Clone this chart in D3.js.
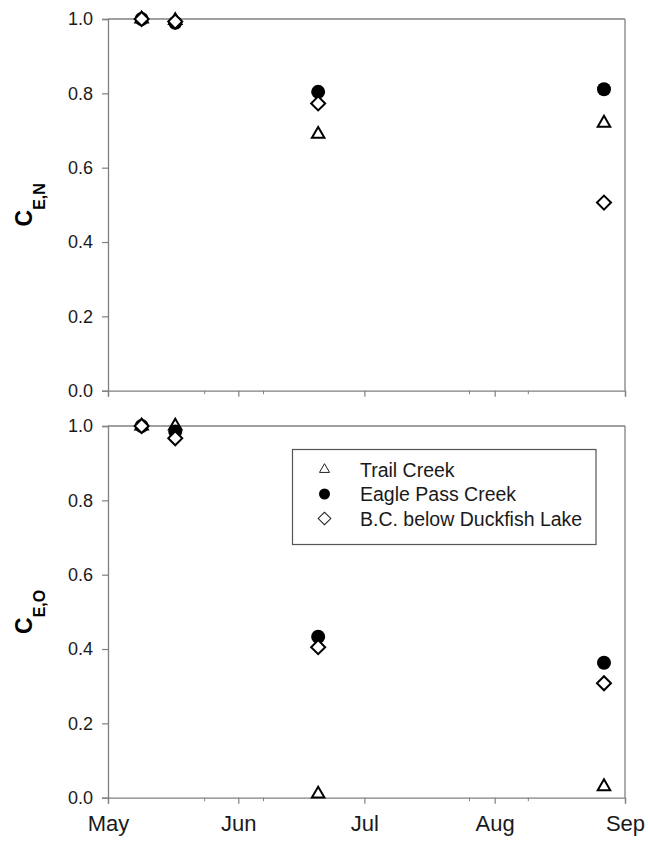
<!DOCTYPE html>
<html>
<head>
<meta charset="utf-8">
<script src="https://cdn.jsdelivr.net/npm/d3@7"></script>
<style>
  html, body { margin: 0; padding: 0; background: #fff; }
  svg { display: block; }
  text { font-family: "Liberation Sans", Arial, sans-serif; }
</style>
</head>
<body>
<svg id="chart" width="648" height="845"></svg>
<script>
// Sampling dates and removal coefficients for three streams
const sampleDates = ["2008-05-09", "2008-05-17", "2008-06-20", "2008-08-27"];
const seriesNames = ["Trail Creek", "Eagle Pass Creek", "B.C. below Duckfish Lake"];

// Nitrogen panel (C E,N)
const trailCreekN = [1.0, 0.996, 0.69, 0.72];
const eaglePassN  = [1.0, 0.99, 0.804, 0.811];
const duckfishN   = [1.0, 0.993, 0.773, 0.506];

// Oxygen panel (C E,O)
const trailCreekO = [1.0, 1.0, 0.01, 0.03];
const eaglePassO  = [1.0, 0.985, 0.433, 0.363];
const duckfishO   = [1.0, 0.967, 0.405, 0.308];

const yTicks = [0, 0.2, 0.4, 0.6, 0.8, 1.0];
const monthTicks = ["2008-05-01", "2008-06-01", "2008-07-01", "2008-08-01", "2008-09-01"];
const minorTickDates = ["2008-05-24", "2008-06-07", "2008-07-26", "2008-08-09"];

const parse = d3.utcParse("%Y-%m-%d");
const svg = d3.select("#chart");
const axisColor = "#808080";
const textColor = "#1a1a1a";

const x = d3.scaleUtc()
  .domain([parse(monthTicks[0]), parse(monthTicks[monthTicks.length - 1])])
  .range([108, 625]);

const panels = [
  { top: 19,  bottom: 390.7, sub: "E,N", data: [trailCreekN, eaglePassN, duckfishN], labels: false, legend: false },
  { top: 426, bottom: 797.7, sub: "E,O", data: [trailCreekO, eaglePassO, duckfishO], labels: true,  legend: true }
];

const triPath = d3.symbol(d3.symbolTriangle, 68)();
const sqPath  = d3.symbol(d3.symbolSquare, 98)();

function drawMarker(g, kind, cx, cy, legend) {
  if (kind === 0) {
    g.append("path")
      .attr("d", legend ? d3.symbol(d3.symbolTriangle, 44)() : triPath)
      .attr("transform", `translate(${cx},${cy})`)
      .attr("fill", "#fff")
      .attr("stroke", legend ? "#222" : "#000")
      .attr("stroke-width", legend ? 1 : 2)
      .attr("stroke-linejoin", "miter");
  } else if (kind === 1) {
    g.append("circle")
      .attr("cx", cx).attr("cy", cy)
      .attr("r", legend ? 5.5 : 7)
      .attr("fill", "#000");
  } else {
    g.append("path")
      .attr("d", legend ? d3.symbol(d3.symbolSquare, 80)() : sqPath)
      .attr("transform", `translate(${cx},${cy}) rotate(45)`)
      .attr("fill", "#fff")
      .attr("stroke", legend ? "#222" : "#000")
      .attr("stroke-width", legend ? 1 : 2);
  }
}

panels.forEach(p => {
  const y = d3.scaleLinear().domain([0, 1]).range([p.bottom, p.top]);
  const g = svg.append("g");

  // frame: top and right borders
  g.append("line").attr("x1", x.range()[0]).attr("x2", x.range()[1])
    .attr("y1", p.top).attr("y2", p.top)
    .attr("stroke", axisColor).attr("stroke-width", 1.3);
  g.append("line").attr("x1", x.range()[1]).attr("x2", x.range()[1])
    .attr("y1", p.top).attr("y2", p.bottom)
    .attr("stroke", axisColor).attr("stroke-width", 1.3);

  // y axis
  const yAxis = d3.axisLeft(y).tickValues(yTicks).tickFormat(d3.format(".1f"))
    .tickSize(6).tickPadding(9);
  const ya = g.append("g").attr("transform", `translate(${x.range()[0]},0)`).call(yAxis);
  ya.select(".domain").attr("stroke", axisColor).attr("stroke-width", 1.3);
  ya.selectAll(".tick line").attr("stroke", axisColor).attr("stroke-width", 1.2);
  ya.selectAll(".tick text")
    .attr("fill", textColor)
    .style("font-size", "18px")
    .style("font-family", "'Liberation Sans', Arial, sans-serif");

  // x axis (major month ticks)
  const xAxis = d3.axisBottom(x).tickValues(monthTicks.map(parse))
    .tickFormat(p.labels ? d3.utcFormat("%b") : () => "")
    .tickSize(6).tickPadding(12);
  const xa = g.append("g").attr("transform", `translate(0,${p.bottom})`).call(xAxis);
  xa.select(".domain").attr("stroke", axisColor).attr("stroke-width", 1.3);
  xa.selectAll(".tick line").attr("stroke", axisColor).attr("stroke-width", 1.2);
  xa.selectAll(".tick text")
    .attr("fill", textColor)
    .style("font-size", "22px")
    .style("font-family", "'Liberation Sans', Arial, sans-serif");

  // minor ticks
  g.selectAll(".minor").data(minorTickDates.map(parse)).enter().append("line")
    .attr("x1", d => x(d)).attr("x2", d => x(d))
    .attr("y1", p.bottom).attr("y2", p.bottom + 3.5)
    .attr("stroke", axisColor).attr("stroke-width", 1);

  // y axis title: C with subscript
  const title = g.append("text")
    .attr("transform", `translate(31.5,${(p.top + p.bottom) / 2}) rotate(-90)`)
    .attr("text-anchor", "middle")
    .attr("fill", "#000")
    .style("font-weight", "bold");
  title.append("tspan").style("font-size", "23px").text("C");
  title.append("tspan").attr("dy", 13).style("font-size", "16px").text(p.sub);

  // markers: triangles, then circles, then diamonds
  const marks = g.append("g");
  p.data.forEach((vals, k) => {
    vals.forEach((v, i) => drawMarker(marks, k, x(parse(sampleDates[i])), y(v), false));
  });

  if (p.legend) {
    const lg = g.append("g");
    lg.append("rect")
      .attr("x", 292.5).attr("y", 449.5).attr("width", 303.5).attr("height", 95)
      .attr("fill", "#fff").attr("stroke", "#555").attr("stroke-width", 1.2);
    const rowY = [469.5, 494, 518.5];
    seriesNames.forEach((name, k) => {
      drawMarker(lg, k, 324.5, rowY[k], true);
      lg.append("text")
        .attr("x", 360).attr("y", rowY[k] + 7)
        .attr("fill", textColor)
        .style("font-size", "19.5px")
        .text(name);
    });
  }
});
</script>
</body>
</html>
